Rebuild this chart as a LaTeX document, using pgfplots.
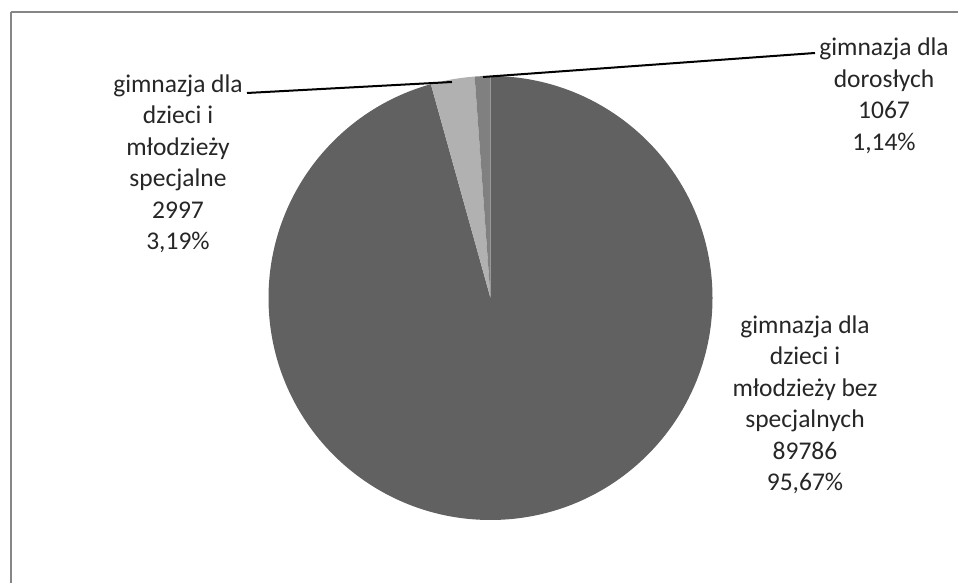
\documentclass[border=0pt]{standalone}
\usepackage{pgfplots}
\pgfplotsset{compat=1.18}
\usepackage{pgfplotstable}
\usepackage{fontspec}
\setmainfont{Carlito}
\definecolor{sliceA}{RGB}{97,97,97}
\definecolor{sliceB}{RGB}{177,177,177}
\definecolor{sliceC}{RGB}{128,128,128}
\definecolor{frame}{RGB}{134,134,134}
\pgfplotstableread{
name value
bez 89786
spec 2997
dor 1067
}\piedata
\begin{document}
\begin{tikzpicture}
\begin{axis}[scale only axis, width=958pt, height=583pt,
  xmin=0, xmax=958, ymin=0, ymax=583, axis lines=none, clip=true]
\pgfplotstablegetelem{0}{value}\of\piedata \edef\va{\pgfplotsretval}
\pgfplotstablegetelem{1}{value}\of\piedata \edef\vb{\pgfplotsretval}
\pgfplotstablegetelem{2}{value}\of\piedata \edef\vc{\pgfplotsretval}
\edef\tot{\fpeval{\va+\vb+\vc}}
\edef\aA{\fpeval{90-360*\va/\tot}}
\edef\aB{\fpeval{\aA-360*\vb/\tot}}
\edef\aC{\fpeval{\aB-360*\vc/\tot}}
\fill[sliceA] (axis cs:490.5,285) -- ++(90:222pt) arc[start angle=90, end angle=\aA, radius=222pt] -- cycle;
\fill[sliceB] (axis cs:490.5,285) -- ++(\aA:222pt) arc[start angle=\aA, end angle=\aB, radius=222pt] -- cycle;
\fill[sliceC] (axis cs:490.5,285) -- ++(\aB:222pt) arc[start angle=\aB, end angle=\aC, radius=222pt] -- cycle;
\draw[black, line width=2pt] (axis cs:247,490) -- (axis cs:452,501);
\draw[black, line width=2pt] (axis cs:483,506) -- (axis cs:815,530);
\draw[frame, line width=2pt] (axis cs:11,571) -- (axis cs:1000,571);
\draw[frame, line width=2pt] (axis cs:11,571) -- (axis cs:11,-20);
\begin{scope}[every node/.style={align=center, font=\fontsize{25.5}{31.5}\selectfont, text=black!85, inner sep=0pt}]
\node at (axis cs:178,419) {gimnazja dla\\dzieci i\\młodzieży\\specjalne\\2997\\3,19\%};
\node at (axis cs:884,487) {gimnazja dla\\dorosłych\\1067\\1,14\%};
\node at (axis cs:805,178) {gimnazja dla\\dzieci i\\młodzieży bez\\specjalnych\\89786\\95,67\%};
\end{scope}
\end{axis}
\pgfresetboundingbox
\useasboundingbox (current axis.south west) rectangle (current axis.north east);
\end{tikzpicture}
\end{document}
